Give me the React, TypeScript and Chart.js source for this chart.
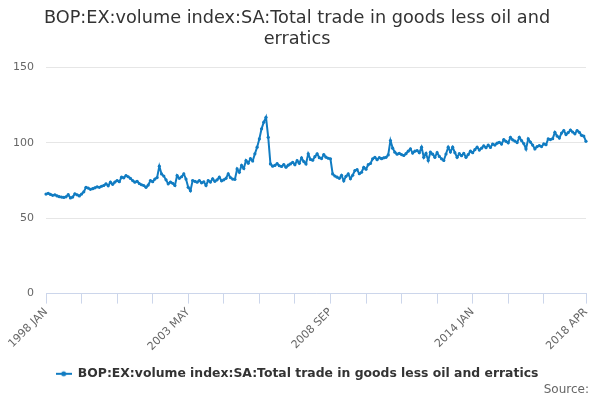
import { useEffect, useRef } from 'react'
import { Chart, registerables } from 'chart.js'

Chart.register(...registerables)

const TITLE = ['BOP:EX:volume index:SA:Total trade in goods less oil and', 'erratics']
const SERIES_NAME = 'BOP:EX:volume index:SA:Total trade in goods less oil and erratics'
const SOURCE = 'Source:'

const FIRST_YEAR = 1998
const MONTHS = ['JAN', 'FEB', 'MAR', 'APR', 'MAY', 'JUN', 'JUL', 'AUG', 'SEP', 'OCT', 'NOV', 'DEC']
const SHOWN_LABELS = ['1998 JAN', '2003 MAY', '2008 SEP', '2014 JAN', '2018 APR']
const TICK_EVERY = 16
const Y_TICKS = [0, 50, 100, 150]

// monthly index values, one array per year
const v1998 = [66, 66.5, 65.8, 65.2, 65.5, 64.8, 64.3, 64, 63.8, 64.2, 65.6, 63.5]
const v1999 = [64, 66.2, 65.5, 64.8, 66, 67.5, 70.5, 70, 69.2, 69.6, 70.2, 70.8]
const v2000 = [70.5, 71.2, 71.7, 72.8, 71.5, 73.9, 72.5, 74, 75, 74.2, 77.2, 76.8]
const v2001 = [78.3, 77.5, 76.4, 75, 73.9, 74.5, 73, 72.2, 71.7, 70.5, 72, 75]
const v2002 = [74.2, 76, 77, 84.5, 79.4, 78, 75.5, 72.8, 74, 73.2, 71.7, 78.3]
const v2003 = [76.5, 77.5, 79.4, 76, 70.5, 68.3, 75, 74.5, 73.9, 75, 73.5, 74.2]
const v2004 = [71.7, 75, 74, 76.2, 74.5, 75.5, 77.2, 74.8, 75.5, 76.5, 79.4, 77]
const v2005 = [76, 75.8, 82.7, 80.5, 85, 83, 88.3, 86.5, 89.5, 88, 92.7, 97.1]
const v2006 = [102.6, 109.3, 113.7, 117, 103.7, 86, 84.5, 85, 86.2, 84.8, 84.3, 85.6]
const v2007 = [83.8, 85.2, 86, 87.1, 85.5, 88.2, 86.4, 90, 87.6, 86, 92.7, 89]
const v2008 = [88.5, 90.8, 92.7, 90.2, 89.6, 92.2, 90.5, 89.8, 89.4, 79.4, 78, 77.2]
const v2009 = [76.5, 78.5, 74.8, 77.8, 79.4, 76.2, 78.5, 81.6, 82.2, 79.5, 80.5, 83.8]
const v2010 = [82.5, 85.5, 86.3, 89.4, 90.4, 88.8, 90.2, 89.5, 90.1, 90.4, 92, 101.5]
const v2011 = [96.5, 93.8, 92.5, 93, 92.2, 91.6, 92.8, 94.5, 96, 93.2, 94.5, 94.9]
const v2012 = [93.5, 97.1, 90.4, 93, 88.3, 93.8, 92.5, 90.4, 93.5, 91, 89.4, 88.3]
const v2013 = [92.6, 97.1, 94, 97.1, 93.5, 90.4, 92.8, 91.5, 93, 90.4, 92.2, 94.5]
const v2014 = [93.5, 95.5, 97.1, 95.2, 96.5, 98, 96.8, 98.5, 97, 99.2, 98.5, 99.8]
const v2015 = [100.4, 99.2, 102.2, 101, 100, 103.7, 102, 101.2, 100.2, 103.7, 101.5, 99.5]
const v2016 = [96, 102.6, 100.5, 98.5, 96, 97.5, 98.2, 97.5, 99.3, 98.8, 102.6, 102.2]
const v2017 = [102.8, 107, 104.5, 103.2, 106.5, 108.2, 105.5, 106.8, 108.5, 107.2, 106, 108.2]
const v2018 = [107, 105, 104.5, 101]

const YEARS = [v1998, v1999, v2000, v2001, v2002, v2003, v2004, v2005, v2006, v2007,
  v2008, v2009, v2010, v2011, v2012, v2013, v2014, v2015, v2016, v2017, v2018]

const values: number[] = []
const labels: string[] = []
YEARS.forEach((year, y) => {
  year.forEach((v, m) => {
    values.push(v)
    labels.push(`${FIRST_YEAR + y} ${MONTHS[m]}`)
  })
})

const LINE = '#117cc2'
const FONT = '"DejaVu Sans", sans-serif'

// legend symbol: short line with a dot, like the source chart
function legendSymbol() {
  const c = document.createElement('canvas')
  c.width = 16
  c.height = 8
  const g = c.getContext('2d')!
  g.strokeStyle = LINE
  g.lineWidth = 2
  g.beginPath()
  g.moveTo(0, 4)
  g.lineTo(16, 4)
  g.stroke()
  g.fillStyle = LINE
  g.beginPath()
  g.arc(8, 4, 2.5, 0, Math.PI * 2)
  g.fill()
  return c
}

const sourcePlugin = {
  id: 'sourceText',
  afterDraw(chart: Chart) {
    const { ctx } = chart
    ctx.save()
    ctx.font = `12px ${FONT}`
    ctx.fillStyle = '#666666'
    ctx.textAlign = 'right'
    ctx.textBaseline = 'middle'
    ctx.fillText(SOURCE, 589, 390)
    ctx.restore()
  },
}

export default function App() {
  const canvasRef = useRef<HTMLCanvasElement>(null)

  useEffect(() => {
    document.body.style.margin = '0'
    if (!canvasRef.current) return
    const last = labels.length - 1

    const chart = new Chart(canvasRef.current, {
      type: 'line',
      data: {
        labels,
        datasets: [{
          label: SERIES_NAME,
          data: values,
          borderColor: LINE,
          backgroundColor: LINE,
          borderWidth: 2,
          pointRadius: 1.6,
          pointBorderWidth: 0,
          pointBackgroundColor: LINE,
          tension: 0,
        }],
      },
      options: {
        animation: false,
        responsive: false,
        layout: { padding: { left: 8, right: 14, top: 0, bottom: 10 } },
        scales: {
          x: {
            offset: false,
            afterFit: (s) => { s.height = 64 },
            grid: {
              drawOnChartArea: false,
              drawTicks: true,
              tickLength: 10,
              color: (ctx) => {
                const i = ctx.index
                if (i === last) return '#ccd6eb'
                return i % TICK_EVERY === 0 && last - i > 8 ? '#ccd6eb' : 'transparent'
              },
            },
            border: { color: '#ccd6eb', width: 1 },
            ticks: {
              autoSkip: false,
              minRotation: 45,
              maxRotation: 45,
              padding: 2,
              color: '#666666',
              font: { family: FONT, size: 11 },
              callback: (_v, i) => (SHOWN_LABELS.includes(labels[i]) ? labels[i] : ''),
            },
          },
          y: {
            min: Y_TICKS[0],
            max: Y_TICKS[Y_TICKS.length - 1],
            afterFit: (s) => { s.width = 38 },
            grid: { color: '#e6e6e6', drawTicks: false },
            border: { display: false },
            ticks: {
              stepSize: 50,
              padding: 12,
              color: '#666666',
              font: { family: FONT, size: 11 },
            },
          },
        },
        plugins: {
          title: {
            display: true,
            text: TITLE,
            color: '#333333',
            font: { family: FONT, size: 17.7, weight: 'normal', lineHeight: 1.2 },
            padding: { top: 8, bottom: 17 },
          },
          legend: {
            position: 'bottom',
            labels: {
              usePointStyle: true,
              pointStyle: legendSymbol(),
              pointStyleWidth: 16,
              color: '#333333',
              font: { family: FONT, size: 12.4, weight: 'bold' },
              padding: 10,
            },
          },
          tooltip: { enabled: false },
        },
      },
      plugins: [sourcePlugin],
    })

    return () => chart.destroy()
  }, [])

  return (
    <div style={{ width: 600, height: 400, background: '#ffffff' }}>
      <canvas ref={canvasRef} width={600} height={400} />
    </div>
  )
}
